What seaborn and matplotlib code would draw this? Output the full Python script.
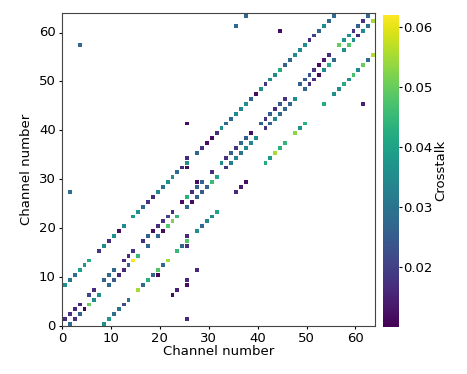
import matplotlib
matplotlib.use("Agg")
import matplotlib.pyplot as plt
import numpy as np
import seaborn as sns

N_CH = 64

# crosstalk to channel x+8 (x = 0..55), None = not shown
plus8_vals = [
    0.036, 0.030, 0.029, 0.040, 0.037, 0.042, None, 0.018,
    0.035, 0.017, 0.036, 0.012, 0.035, None, 0.038, 0.036,
    0.028, 0.018, 0.017, 0.034, 0.029, 0.036, 0.036, 0.028,
    0.017, 0.036, None, 0.027, 0.018, 0.012, 0.012, 0.017,
    0.036, 0.028, 0.027, 0.035, 0.034, 0.036, 0.026, 0.012,
    0.036, 0.018, 0.035, 0.035, 0.042, 0.027, 0.028, 0.035,
    0.035, 0.036, 0.017, 0.021, 0.027, 0.035, 0.028, 0.028,
]

# crosstalk to channel x-8 (x = 8..63)
minus8_vals = [
    0.036, 0.038, 0.029, 0.030, 0.022, 0.030, None, 0.055,
    0.028, 0.043, 0.027, 0.048, 0.028, 0.055, None, 0.045,
    0.027, 0.048, None, 0.036, 0.028, 0.034, 0.035, 0.040,
    None, None, None, 0.016, 0.014, 0.012, None, None,
    None, 0.042, 0.038, 0.055, 0.043, 0.044, None, 0.053,
    0.037, 0.043, None, None, None, 0.042, None, 0.036,
    0.035, 0.042, 0.037, 0.047, 0.035, 0.050, 0.028, 0.056,
]

# neighbour crosstalk (x -> x+1), x = 0..62
upper_vals = [
    0.017, 0.018, 0.016, 0.016, None, 0.021, 0.017, None,
    0.026, 0.028, 0.027, None, 0.016, 0.017, 0.018, None,
    0.017, 0.026, 0.012, 0.017, 0.018, 0.021, 0.017, None,
    0.012, 0.043, 0.017, 0.026, 0.027, None, 0.017, None,
    0.035, 0.018, 0.026, 0.018, 0.027, 0.025, 0.012, None,
    0.026, 0.018, 0.025, 0.017, 0.025, 0.018, None, None,
    0.026, 0.025, 0.024, 0.018, 0.012, 0.014, 0.017, None,
    0.050, 0.037, 0.036, 0.018, 0.026, 0.018, 0.028,
]

# neighbour crosstalk (x+1 -> x), x = 0..62
lower_vals = [
    0.028, 0.018, 0.026, 0.011, 0.050, 0.035, 0.036, None,
    0.027, 0.025, 0.017, 0.016, 0.025, 0.062, 0.045, None,
    0.027, None, 0.027, 0.012, 0.048, 0.052, 0.045, None,
    0.027, 0.012, 0.026, 0.025, 0.027, 0.046, 0.040, None,
    0.018, 0.032, 0.033, 0.030, 0.034, 0.034, 0.035, None,
    0.018, 0.027, 0.033, 0.028, 0.027, 0.027, 0.035, None,
    0.027, 0.018, 0.018, 0.012, 0.035, 0.042, 0.028, None,
    0.036, 0.048, 0.037, 0.017, 0.035, 0.030, 0.055,
]

# isolated entries
outlier_x = [1, 3, 35, 37, 44, 61, 25, 25, 25, 25, 25, 25, 25, 25, 19, 27, 22, 23, 27]
outlier_y = [27, 57, 61, 63, 60, 45, 41, 34, 32, 18, 16, 9, 8, 1, 10, 11, 6, 7, 29]
outlier_vals = [0.029, 0.028, 0.028, 0.028, 0.012, 0.015, 0.012, 0.016, 0.012,
                0.016, 0.017, 0.016, 0.012, 0.016, 0.011, 0.016, 0.012, 0.015, 0.012]

grid = np.full((N_CH, N_CH), np.nan)
for x, v in enumerate(plus8_vals):
    if v is not None:
        grid[x + 8, x] = v
for k, v in enumerate(minus8_vals):
    if v is not None:
        grid[k, k + 8] = v
for x, v in enumerate(upper_vals):
    if v is not None:
        grid[x + 1, x] = v
for x, v in enumerate(lower_vals):
    if v is not None:
        grid[x, x + 1] = v
for x, y, v in zip(outlier_x, outlier_y, outlier_vals):
    grid[y, x] = v

W, H = 467, 374
fig = plt.figure(figsize=(W / 100, H / 100), dpi=100)
ax = fig.add_axes([62 / W, 48 / H, 313 / W, 313 / H])
cax = fig.add_axes([382.5 / W, 47.5 / H, 16 / W, 312 / H])

sns.heatmap(grid, ax=ax, cbar_ax=cax, cmap="viridis", vmin=0.0102, vmax=0.062,
            mask=np.isnan(grid), linewidths=0.5, linecolor="white",
            cbar_kws={"ticks": [0.02, 0.03, 0.04, 0.05, 0.06]})
ax.invert_yaxis()

ticks = np.arange(0, 61, 10)
ax.set_xticks(ticks)
ax.set_xticklabels(ticks, rotation=0, fontsize=9.5)
ax.set_yticks(ticks)
ax.set_yticklabels(ticks, rotation=0, fontsize=9.5)
ax.tick_params(length=2.5, pad=2)
ax.set_xlabel("Channel number", fontsize=9.5, labelpad=0)
ax.set_ylabel("Channel number", fontsize=9.5)
for s in ax.spines.values():
    s.set_visible(True)
    s.set_color("#444444")

cax.tick_params(labelsize=9.5, length=2, pad=1.5)
cax.set_ylabel("Crosstalk", fontsize=9.5, labelpad=1)
cax.yaxis.set_label_position("right")
cbar = ax.collections[0].colorbar
cbar.outline.set_visible(True)
cbar.outline.set_edgecolor("#444444")

fig.savefig("out.png", dpi=100)
